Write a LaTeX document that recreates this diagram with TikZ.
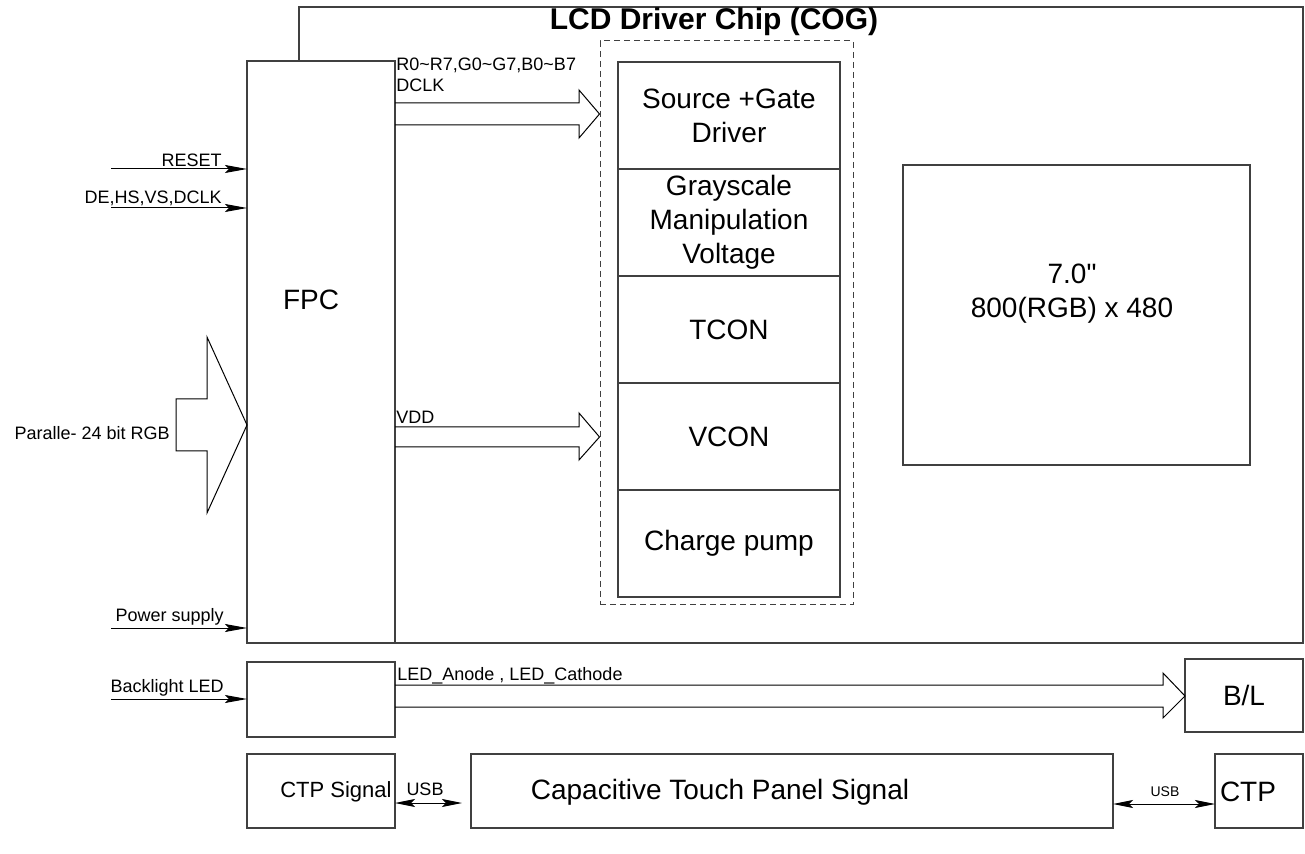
\documentclass[tikz,border=0pt]{standalone}
\usepackage{fontspec}
\setmainfont{Liberation Sans}
\usetikzlibrary{positioning,arrows.meta}
\tikzset{
 blk box/.style={draw=black!75,line width=.6pt,fill=white,inner sep=0pt,outer sep=0pt},
 blk cell/.style={blk box,minimum width=111pt,minimum height=53.5pt,align=center,
                  font=\fontsize{14}{17}\selectfont},
 blk big/.style={font=\fontsize{14}{17}\selectfont,inner sep=0pt},
 blk small/.style={font=\fontsize{9}{10.5}\selectfont,inner sep=0pt,align=left},
 blk sig/.style={line width=.5pt,-{Stealth[length=11pt,width=4pt,inset=2pt]}},
 blk usb/.style={line width=.5pt,{Stealth[length=10pt,width=4pt,inset=2pt]}-{Stealth[length=10pt,width=4pt,inset=2pt]}},
 blk fat/.style={line width=.5pt,line join=miter}
}

\begin{document}
\begin{tikzpicture}[x=.5pt,y=-.5pt]
 \useasboundingbox (0,0) rectangle (1305,854);
 % chip outline, FPC on top of it
 \node[blk box,fill=none,minimum width=502pt,minimum height=318pt] (chip) at (801,325) {};
 \node[font=\bfseries\fontsize{15}{18}\selectfont,inner sep=0pt] (chiptitle) at (714,22) {LCD Driver Chip (COG)};
 \node[blk box,minimum width=74pt,minimum height=291pt] (fpc) at (321,352) {};
 \node[blk big] (fpctext) at (311,300) {FPC};

 % driver blocks
 \node[draw=black!75,line width=.5pt,dash pattern=on 3pt off 2pt,minimum width=126.5pt,
       minimum height=282pt,inner sep=0pt] (frame) at (726.5,323) {};
 \node[blk cell] (src) at (729,115.5) {Source +Gate\\Driver};
 \node[blk cell,below=0pt of src] (gray) {Grayscale\\Manipulation\\Voltage};
 \node[blk cell,below=0pt of gray] (tcon) {TCON};
 \node[blk cell,below=0pt of tcon] (vcon) {VCON};
 \node[blk cell,below=0pt of vcon] (pump) {Charge pump};

 \node[blk box,minimum width=173.5pt,minimum height=150pt] (panel) at (1076.5,315) {};
 \node[blk big,align=center] (paneltext) at (1072,294) {7.0\textquotedbl\\800(RGB) x 480};

 % wide arrows FPC -> driver
 \draw[blk fat] (fpc.east |- 0,103) -- (579,103) -- (579,90) -- (frame.west |- 0,114)
   -- (579,138) -- (579,125) -- (fpc.east |- 0,125);
 \node[blk small,anchor=north west] (rgblab) at (396,58)
   {R0\textasciitilde R7,G0\textasciitilde G7,B0\textasciitilde B7\\DCLK};
 \draw[blk fat] (fpc.east |- 0,427) -- (579,427) -- (579,413) -- (frame.west |- 0,437)
   -- (579,460) -- (579,447) -- (fpc.east |- 0,447);
 \node[blk small,anchor=south west] (vddlab) at (396,424) {VDD};

 % inputs
 \draw[blk fat] (176,399) -- (207,399) -- (207,337) -- (fpc.west |- 0,425)
   -- (207,513) -- (207,451) -- (176,451) -- cycle;
 \node[blk small,anchor=east] (rgbin) at (170,433) {Paralle- 24 bit RGB};
 \coordinate (rstin) at (111,169);
 \coordinate (syncin) at (111,208);
 \coordinate (pwrin) at (111,628);
 \coordinate (bklin) at (111,699);
 \draw[blk sig] (rstin) -- (rstin -| fpc.west);
 \draw[blk sig] (syncin) -- (syncin -| fpc.west);
 \draw[blk sig] (pwrin) -- (pwrin -| fpc.west);
 \node[blk small,anchor=south east] (rstlab) at (222,167) {RESET};
 \node[blk small,anchor=south east] (synclab) at (222,206) {DE,HS,VS,DCLK};
 \node[blk small,anchor=south east] (pwrlab) at (224,626) {Power supply};

 % backlight
 \node[blk box,minimum width=74pt,minimum height=37.5pt] (bkl) at (321,699.5) {};
 \draw[blk sig] (bklin) -- (bklin -| bkl.west);
 \node[blk small,anchor=south east] (bkllab) at (224,697) {Backlight LED};
 \node[blk box,blk big,minimum width=59pt,minimum height=36.5pt] (bl) at (1244,695.5) {B/L};
 \draw[blk fat] (bkl.east |- 0,685) -- (1163,685) -- (1163,673) -- (bl.west |- 0,696)
   -- (1163,718) -- (1163,707) -- (bkl.east |- 0,707);
 \node[blk small,anchor=base west] (ledlab) at (397,680) {LED\_Anode , LED\_Cathode};

 % touch panel
 \node[blk box,minimum width=74pt,minimum height=37pt] (ctpsig) at (321,791) {};
 \node[font=\fontsize{11}{13}\selectfont,inner sep=0pt,anchor=east] (ctpsigtext) at (392,792) {CTP Signal};
 \node[blk box,minimum width=321pt,minimum height=37pt] (cap) at (792,791) {};
 \node[blk big] (captext) at (720,792) {Capacitive Touch Panel Signal};
 \node[blk box,minimum width=44pt,minimum height=37pt] (ctp) at (1259,791) {};
 \node[blk big] (ctptext) at (1248,792) {CTP};
 \coordinate (usbend) at (462,803);
 \draw[blk usb] (ctpsig.east |- usbend) -- (usbend);
 \node[blk small] (usbl) at (425,789) {USB};
 \draw[blk usb] (cap.east |- 0,804) -- (ctp.west |- 0,804);
 \node[font=\fontsize{7}{8}\selectfont,inner sep=0pt] (usbr) at (1165,792) {USB};
\end{tikzpicture}
\end{document}
